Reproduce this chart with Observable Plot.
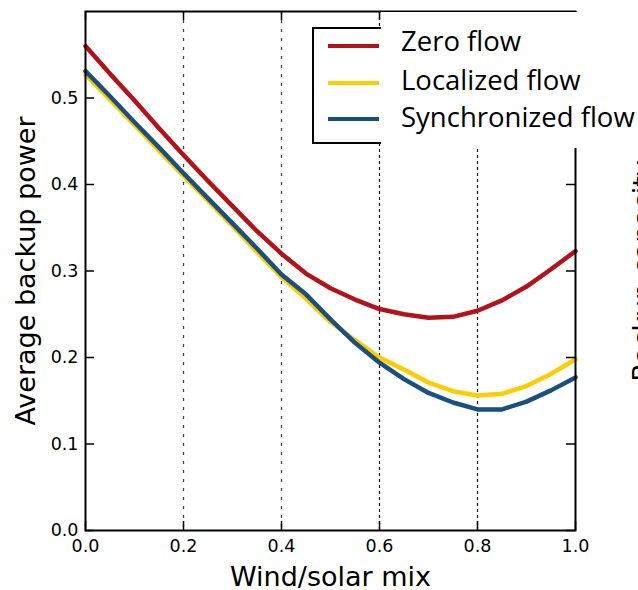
<!DOCTYPE html>
<html><head><meta charset="utf-8">
<script src="https://cdn.jsdelivr.net/npm/d3@7"></script>
<script src="https://cdn.jsdelivr.net/npm/@observablehq/plot@0.6"></script>
<style>
body{margin:0;background:#fff;}
#wrap{position:relative;width:638px;height:590px;overflow:hidden;background:#fff;}
</style></head><body><div id="wrap"></div>
<script>
// ---- data ----
const mix = [0.00,0.05,0.10,0.15,0.20,0.25,0.30,0.35,0.40,0.45,0.50,0.55,0.60,0.65,0.70,0.75,0.80,0.85,0.90,0.95,1.00];
const zeroFlow = [0.560,0.528,0.497,0.465,0.434,0.404,0.375,0.346,0.320,0.297,0.280,0.267,0.256,0.250,0.246,0.247,0.254,0.266,0.282,0.302,0.323];
const localizedFlow = [0.527,0.498,0.469,0.439,0.410,0.381,0.352,0.322,0.293,0.268,0.241,0.220,0.200,0.186,0.171,0.161,0.156,0.158,0.167,0.181,0.198];
const synchronizedFlow = [0.531,0.502,0.472,0.443,0.413,0.384,0.355,0.326,0.296,0.273,0.244,0.217,0.194,0.175,0.159,0.148,0.140,0.140,0.149,0.162,0.177];
const seriesNames = ["Zero flow","Localized flow","Synchronized flow"];
const seriesColors = ["#b3121b","#ffcc00","#1a4f80"];
const xTicks = [0.0,0.2,0.4,0.6,0.8,1.0];
const yTicks = [0.0,0.1,0.2,0.3,0.4,0.5];
const gridLeft = [0.2,0.4];
const gridRight = [0.6,0.8];
const xLabel = "Wind/solar mix";
const yLabel = "Average backup power";
const neighborLabel = "Backup capacity";

const rows = [];
[zeroFlow, localizedFlow, synchronizedFlow].forEach((vals,i)=>
  vals.forEach((v,j)=>rows.push({series: seriesNames[i], x: mix[j], y: v})));

// ---- layout ----
const W=638, H=590, mL=85, mR=63, mT=11, mB=60;
const innerW = W-mL-mR, innerH = H-mT-mB, tk = 9;
const fmt = d3.format(".1f");

const chart = Plot.plot({
  width: W, height: H, marginLeft: mL, marginRight: mR, marginTop: mT, marginBottom: mB,
  style: {fontFamily: "DejaVu Sans", background: "white", color: "black", overflow: "hidden"},
  x: {domain: [0,1]},
  y: {domain: [0,0.6]},
  color: {domain: seriesNames, range: seriesColors},
  marks: [
    Plot.ruleX(gridLeft, {x: d=>d, stroke: "#444", strokeWidth: 1.3, strokeDasharray: "3,6"}),
    Plot.ruleX(gridRight, {x: d=>d, stroke: "#111", strokeWidth: 1.2, strokeDasharray: "3,3"}),
    Plot.line(rows, {x: "x", y: "y", z: "series", stroke: "series", strokeWidth: 4.5, strokeLinejoin: "round"}),
    Plot.tickY(yTicks, {y: d=>d, insetRight: innerW - tk, strokeWidth: 1.5, stroke: "black"}),
    Plot.tickY(yTicks, {y: d=>d, insetLeft: innerW - tk, strokeWidth: 1.5, stroke: "black"}),
    Plot.tickX(xTicks, {x: d=>d, insetTop: innerH - tk, strokeWidth: 1.5, stroke: "black"}),
    Plot.tickX(xTicks, {x: d=>d, insetBottom: innerH - tk, strokeWidth: 1.5, stroke: "black"}),
    Plot.frame({stroke: "black", strokeWidth: 2}),
    Plot.axisX(xTicks, {tickSize: 0, tickPadding: 9, fontSize: 17.5, tickFormat: fmt, label: null}),
    Plot.axisY(yTicks, {tickSize: 0, tickPadding: 7, fontSize: 17.5, tickFormat: fmt, label: null}),
    Plot.text([xLabel], {frameAnchor: "bottom", textAnchor: "middle", lineAnchor: "bottom", dy: 55, fontSize: 27}),
    Plot.text([yLabel], {frameAnchor: "left", textAnchor: "middle", rotate: -90, lineAnchor: "bottom", dx: -51, fontSize: 27}),
    Plot.text([neighborLabel], {frameAnchor: "right", textAnchor: "middle", rotate: -90, lineAnchor: "bottom", dx: 76, fontSize: 27})
  ]
});
const wrap = document.getElementById("wrap");
wrap.appendChild(chart);

// ---- legend overlay ----
const leg = d3.create("svg").attr("width", W).attr("height", H)
  .style("position","absolute").style("left","0px").style("top","0px");
leg.append("rect").attr("x",313).attr("y",28).attr("width",140).attr("height",115)
  .attr("fill","white").attr("stroke","black").attr("stroke-width",2);
leg.append("rect").attr("x",381).attr("y",12).attr("width",262).attr("height",136).attr("fill","white");
const lineY = [46,83,119], textY = [51,90,127];
seriesNames.forEach((name,i)=>{
  leg.append("line").attr("x1",328).attr("x2",379).attr("y1",lineY[i]).attr("y2",lineY[i])
    .attr("stroke",seriesColors[i]).attr("stroke-width",4);
  leg.append("text").attr("x",401).attr("y",textY[i]).text(name)
    .attr("font-family","Open Sans").attr("font-size",27.5).attr("fill","black");
});
wrap.appendChild(leg.node());
</script>
</body></html>
